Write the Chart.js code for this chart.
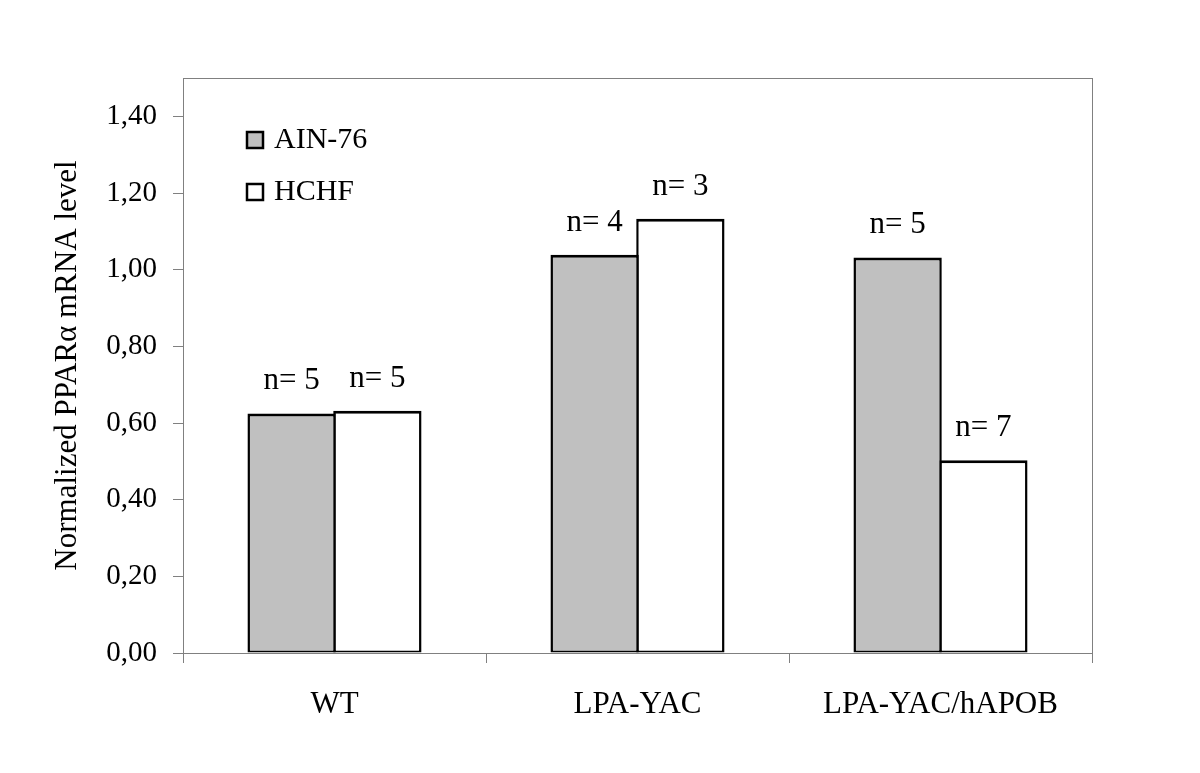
<!DOCTYPE html>
<html>
<head>
<meta charset="utf-8">
<script src="https://cdn.jsdelivr.net/npm/chart.js@4.4.1/dist/chart.umd.min.js"></script>
<style>
  html, body { margin: 0; padding: 0; background: #fff; }
  #wrap { width: 1200px; height: 773px; }
</style>
</head>
<body>
<div id="wrap"><canvas id="chart" width="1200" height="773"></canvas></div>
<script>
// values
const categories = ['WT', 'LPA-YAC', 'LPA-YAC/hAPOB']
const seriesNames = ['AIN-76', 'HCHF']
const ain76 = [0.625, 1.039, 1.032]
const hchf  = [0.632, 1.133, 0.503]
const nAin76 = ['n= 5', 'n= 4', 'n= 5']
const nHchf  = ['n= 5', 'n= 3', 'n= 7']
const yTicks = [0, 0.2, 0.4, 0.6, 0.8, 1.0, 1.2, 1.4]

const serif = "'Liberation Serif', 'Times New Roman', serif"
const axisGray = '#808080'

// box round the plot area
const plotBox = {
    id: 'plotBox',
    beforeDatasetsDraw(chart) {
        const a = chart.chartArea
        const ctx = chart.ctx
        ctx.save()
        ctx.strokeStyle = axisGray
        ctx.lineWidth = 1
        ctx.strokeRect(Math.round(a.left) + 0.5, Math.round(a.top) + 0.5,
            Math.round(a.right - a.left), Math.round(a.bottom - a.top))
        ctx.restore()
    }
}

// "n= x" above each bar
const countLabels = {
    id: 'countLabels',
    afterDatasetsDraw(chart) {
        const ctx = chart.ctx
        const texts = [nAin76, nHchf]
        ctx.save()
        ctx.fillStyle = '#000'
        ctx.font = '31px ' + serif
        ctx.textAlign = 'center'
        ctx.textBaseline = 'alphabetic'
        chart.data.datasets.forEach((ds, i) => {
            chart.getDatasetMeta(i).data.forEach((bar, j) => {
                ctx.fillText(texts[i][j], bar.x, bar.y - 24)
            })
        })
        ctx.restore()
    }
}

// legend inside the plot, top left
const innerLegend = {
    id: 'innerLegend',
    afterDraw(chart) {
        const ctx = chart.ctx
        const a = chart.chartArea
        ctx.save()
        ctx.font = '30px ' + serif
        ctx.textBaseline = 'alphabetic'
        chart.data.datasets.forEach((ds, i) => {
            const x = a.left + 64
            const y = a.top + 54 + i * 52
            ctx.fillStyle = ds.backgroundColor
            ctx.fillRect(x, y, 16, 16)
            ctx.strokeStyle = '#000'
            ctx.lineWidth = 2.5
            ctx.strokeRect(x, y, 16, 16)
            ctx.fillStyle = '#000'
            ctx.fillText(ds.label, x + 27, y + 16)
        })
        ctx.restore()
    }
}

// bars overlap by one border width so neighbours share a single edge
const barLook = {
    borderColor: '#000',
    borderWidth: { top: 3, left: 2.5, right: 2.5, bottom: 2 },
    borderSkipped: false,
    categoryPercentage: 0.566,
    barPercentage: 1.03
}

new Chart(document.getElementById('chart'), {
    type: 'bar',
    data: {
        labels: categories,
        datasets: [
            { label: seriesNames[0], data: ain76, backgroundColor: '#c0c0c0', ...barLook },
            { label: seriesNames[1], data: hchf, backgroundColor: '#ffffff', ...barLook }
        ]
    },
    options: {
        responsive: false,
        animation: false,
        layout: { padding: { left: 40, top: 78, right: 108, bottom: 0 } },
        plugins: {
            legend: { display: false },
            tooltip: { enabled: false }
        },
        scales: {
            x: {
                offset: true,
                afterFit: s => { s.height = 120 },
                grid: {
                    offset: true,
                    drawOnChartArea: false,
                    drawTicks: true,
                    tickLength: 10,
                    color: axisGray
                },
                border: { display: false },
                ticks: {
                    color: '#000',
                    padding: 23,
                    font: { family: serif, size: 31 }
                }
            },
            y: {
                min: 0,
                max: 1.5,
                afterFit: s => { s.width = 143 },
                afterBuildTicks: s => { s.ticks = yTicks.map(v => ({ value: v })) },
                grid: {
                    drawOnChartArea: false,
                    drawTicks: true,
                    tickLength: 10,
                    color: axisGray
                },
                border: { display: false },
                ticks: {
                    color: '#000',
                    padding: 16,
                    font: { family: serif, size: 29 },
                    callback: v => v.toFixed(2).replace('.', ',')
                },
                title: {
                    display: true,
                    text: 'Normalized PPARα mRNA level',
                    color: '#000',
                    padding: { top: 9, bottom: 0 },
                    font: { family: serif, size: 31 }
                }
            }
        }
    },
    plugins: [plotBox, countLabels, innerLegend]
})
</script>
</body>
</html>
